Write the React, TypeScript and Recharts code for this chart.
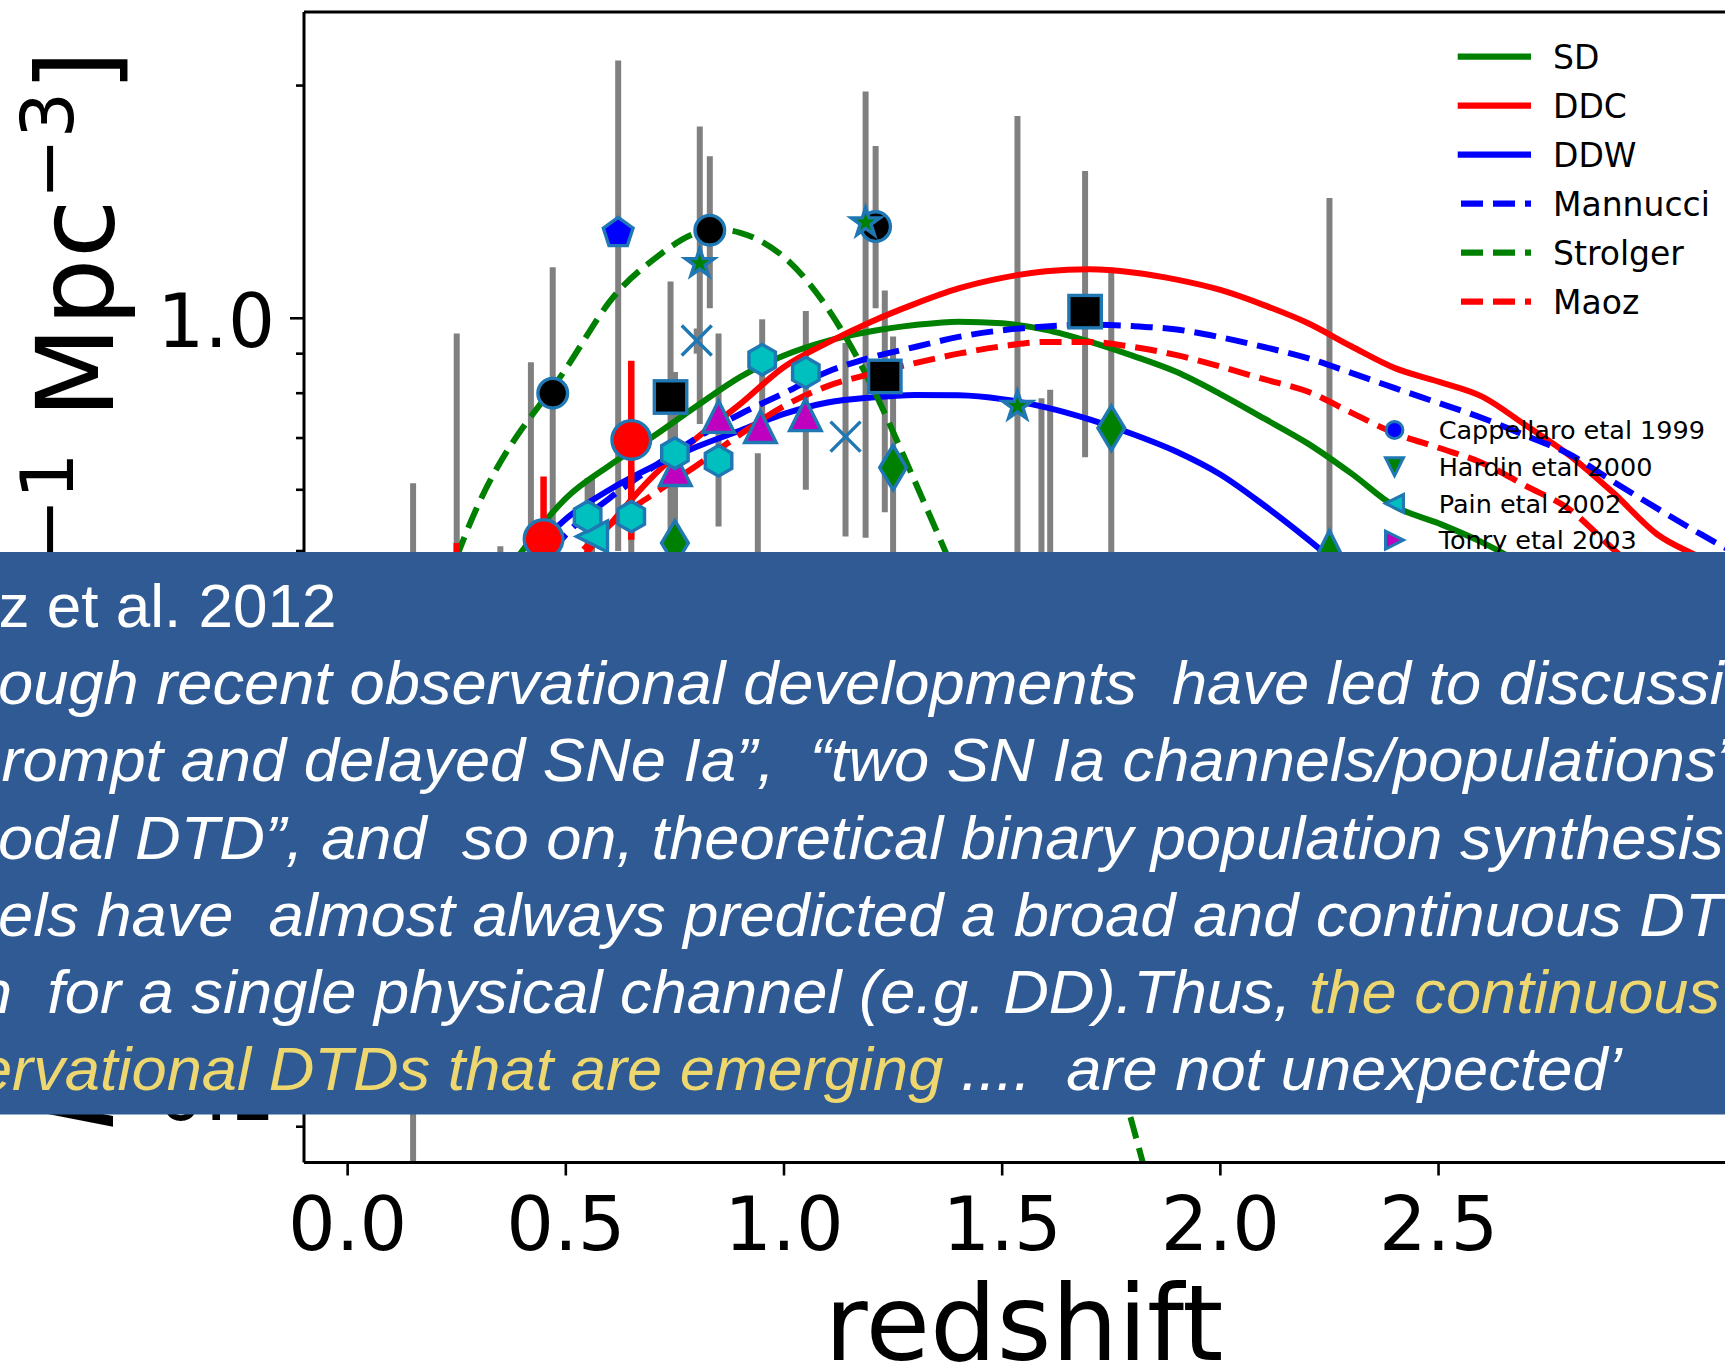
import React from 'react';
import { ComposedChart, Line, Scatter, XAxis, YAxis, ErrorBar, ReferenceLine } from 'recharts';

// ---------- model curves: SN Ia rate vs redshift ----------
const redshiftGrid = [
  0.0, 0.1, 0.2, 0.3, 0.4, 0.5, 0.6, 0.7, 0.8, 0.9, 1.0, 1.1, 1.2, 1.3, 1.4, 1.5, 1.6,
  1.7, 1.8, 1.9, 2.0, 2.1, 2.2, 2.3, 2.4, 2.5, 2.6, 2.7, 2.8, 2.9, 3.0, 3.1, 3.2,
];
const sdRate = [
  0.22, 0.27, 0.33, 0.41, 0.5, 0.585, 0.645, 0.703, 0.77, 0.84, 0.895, 0.935, 0.962, 0.98, 0.99, 0.985, 0.966,
  0.933, 0.894, 0.852, 0.798, 0.742, 0.689, 0.63, 0.571, 0.543, 0.513, 0.478, 0.44, 0.405, 0.37, 0.34, 0.31,
];
const ddcRate = [
  0.14, 0.18, 0.24, 0.31, 0.39, 0.46, 0.54, 0.625, 0.7, 0.775, 0.865, 0.93, 0.99, 1.044, 1.093, 1.128, 1.15,
  1.157, 1.146, 1.122, 1.088, 1.04, 0.986, 0.92, 0.862, 0.828, 0.792, 0.727, 0.665, 0.595, 0.526, 0.49, 0.455,
];
const ddwRate = [
  0.2, 0.25, 0.31, 0.39, 0.48, 0.55, 0.6, 0.643, 0.682, 0.716, 0.752, 0.778, 0.79, 0.796, 0.795, 0.786, 0.767,
  0.74, 0.708, 0.672, 0.628, 0.573, 0.518, 0.465, 0.42, 0.38, 0.345, 0.31, 0.28, 0.255, 0.23, 0.21, 0.19,
];
const mannucciRate = [
  0.17, 0.22, 0.28, 0.35, 0.44, 0.525, 0.585, 0.642, 0.7, 0.752, 0.8, 0.853, 0.89, 0.918, 0.946, 0.965, 0.976,
  0.981, 0.977, 0.967, 0.945, 0.918, 0.888, 0.85, 0.812, 0.777, 0.743, 0.705, 0.667, 0.615, 0.568, 0.526, 0.49,
];
const strolgerRate = [
  0.2, 0.28, 0.41, 0.575, 0.72, 0.86, 1.05, 1.19, 1.29, 1.29, 1.2, 1.03, 0.82, 0.615, 0.455, 0.325, 0.22,
  0.142, 0.09, 0.055, null, null, null, null, null, null, null, null, null, null, null, null, null,
];
const maozRate = [
  0.13, 0.17, 0.22, 0.28, 0.37, 0.47, 0.54, 0.592, 0.645, 0.708, 0.77, 0.817, 0.848, 0.875, 0.9, 0.92, 0.932,
  0.932, 0.918, 0.896, 0.866, 0.834, 0.804, 0.755, 0.71, 0.68, 0.65, 0.607, 0.566, 0.503, 0.45, 0.41, 0.37,
];

// ---------- observed rates (value, lower and upper bound) ----------
type Obs = { z: number; rate: number; lo: number; hi: number };

const cappellaro1999: Obs[] = [{ z: 0.01, rate: 0.28, lo: 0.2, hi: 0.37 }];
const hardin2000: Obs[] = [{ z: 0.14, rate: 0.24, lo: 0.15, hi: 0.36 }];
const pain2002: Obs[] = [{ z: 0.56, rate: 0.522, lo: 0.43, hi: 0.62 }];
const tonry2003: Obs[] = [{ z: 0.46, rate: 0.4, lo: 0.26, hi: 0.47 }];
const dahlen2004: Obs[] = [
  { z: 0.47, rate: 0.8, lo: 0.45, hi: 1.164 },
  { z: 0.83, rate: 1.3, lo: 1.03, hi: 1.62 },
  { z: 1.21, rate: 1.314, lo: 1.03, hi: 1.67 },
  { z: 1.61, rate: 0.44, lo: 0.2, hi: 0.808 },
];
const barrisTonry2006: Obs[] = [{ z: 0.62, rate: 1.289, lo: 0.5, hi: 2.155 }];
const neill2006: Obs[] = [{ z: 0.42, rate: 0.42, lo: 0.3, hi: 0.877 }];
const poznanski2007: Obs[] = [
  { z: 0.807, rate: 1.178, lo: 0.73, hi: 1.77 },
  { z: 1.187, rate: 1.33, lo: 0.52, hi: 1.965 },
  { z: 1.535, rate: 0.77, lo: 0.3, hi: 1.827 },
];
const kuznetsova2008: Obs[] = [
  { z: 0.8, rate: 0.936, lo: 0.9, hi: 0.97 },
  { z: 1.141, rate: 0.703, lo: 0.522, hi: 0.929 },
];
const dahlen2008: Obs[] = [
  { z: 0.94, rate: 0.45, lo: 0.3, hi: 0.669 },
  { z: 1.59, rate: 0.45, lo: 0.25, hi: 0.788 },
];
const dilday2010: Obs[] = [
  { z: 0.25, rate: 0.33, lo: 0.2, hi: 0.956 },
  { z: 0.35, rate: 0.3, lo: 0.2, hi: 0.507 },
];
const graur2011: Obs[] = [{ z: 2.25, rate: 0.507, lo: 0.25, hi: 1.431 }];
const perrett2012: Obs[] = [
  { z: 0.15, rate: 0.3, lo: 0.0812, hi: 0.612 },
  { z: 0.25, rate: 0.36, lo: 0.3, hi: 0.42 },
  { z: 0.35, rate: 0.38, lo: 0.33, hi: 0.43 },
  { z: 0.45, rate: 0.42, lo: 0.37, hi: 0.47 },
  { z: 0.55, rate: 0.554, lo: 0.48, hi: 0.621 },
  { z: 0.65, rate: 0.554, lo: 0.47, hi: 0.64 },
  { z: 0.75, rate: 0.669, lo: 0.55, hi: 0.852 },
  { z: 0.85, rate: 0.654, lo: 0.538, hi: 0.956 },
  { z: 0.95, rate: 0.884, lo: 0.7, hi: 0.997 },
  { z: 1.05, rate: 0.851, lo: 0.6, hi: 1.022 },
];
const graur2014: Obs[] = [
  { z: 0.74, rate: 0.791, lo: 0.5, hi: 1.116 },
  { z: 1.231, rate: 0.841, lo: 0.561, hi: 1.086 },
  { z: 1.69, rate: 1.02, lo: 0.661, hi: 1.551 },
];
const rodney2014: Obs[] = [
  { z: 0.25, rate: 0.3, lo: 0.2, hi: 0.4 },
  { z: 0.75, rate: 0.512, lo: 0.35, hi: 0.852 },
  { z: 1.25, rate: 0.641, lo: 0.4, hi: 0.947 },
  { z: 1.75, rate: 0.721, lo: 0.45, hi: 1.163 },
];
const okumura2014: Obs[] = [
  { z: 0.751, rate: 0.637, lo: 0.637, hi: 0.637 },
  { z: 0.85, rate: 0.746, lo: 0.746, hi: 0.746 },
  { z: 0.946, rate: 0.724, lo: 0.724, hi: 0.724 },
  { z: 1.049, rate: 0.75, lo: 0.75, hi: 0.75 },
];
const sudare: Obs[] = [
  { z: 0.25, rate: 0.28, lo: 0.15, hi: 0.512 },
  { z: 0.449, rate: 0.518, lo: 0.38, hi: 0.624 },
  { z: 0.65, rate: 0.696, lo: 0.517, hi: 0.881 },
];

// ---------- axes ----------
const X_DOMAIN: [number, number] = [-0.1, 3.2];
const Y_MIN = 0.0809;
const Y_MAX = 2.49;
const xTicks = [0, 0.5, 1, 1.5, 2, 2.5];
const yMajorTicks = [0.1, 1];
const yMinorTicks = [0.09, 0.2, 0.3, 0.4, 0.5, 0.6, 0.7, 0.8, 0.9, 2];

// ---------- colours ----------
const GREEN = '#008000';
const RED = '#ff0000';
const BLUE = '#0000ff';
const CYAN = '#00bfbf';
const MAGENTA = '#bf00bf';
const OLIVE = '#bfbf00';
const EDGE = '#1f77b4';
const BAR_GREY = '#808080';
const AXIS_FONT = 'DejaVu Sans, Verdana, sans-serif';

// geometry of the plotting frame
const CHART_W = 1800;
const CHART_H = 1364;
const PLOT_LEFT = 304;
const PLOT_TOP = 12;
const PLOT_BOTTOM = 1162.5;
const PLOT_RIGHT = 1744;

const modelSeries = [
  { name: 'SD', values: sdRate, color: GREEN, dashed: false, curve: 'monotone' },
  { name: 'DDC', values: ddcRate, color: RED, dashed: false, curve: 'monotone' },
  { name: 'DDW', values: ddwRate, color: BLUE, dashed: false, curve: 'monotone' },
  { name: 'Mannucci', values: mannucciRate, color: BLUE, dashed: true, curve: 'monotone' },
  { name: 'Strolger', values: strolgerRate, color: GREEN, dashed: true, curve: 'natural' },
  { name: 'Maoz', values: maozRate, color: RED, dashed: true, curve: 'monotone' },
];

type Kind =
  | 'circle' | 'square' | 'triUp' | 'triDown' | 'triLeft' | 'triRight'
  | 'pentagon' | 'hexagon' | 'star' | 'thinDiamond' | 'x';

const observationSeries: { name: string; points: Obs[]; kind: Kind; face: string; r: number }[] = [
  { name: 'Cappellaro etal 1999', points: cappellaro1999, kind: 'circle', face: BLUE, r: 14.5 },
  { name: 'Hardin etal 2000', points: hardin2000, kind: 'triDown', face: GREEN, r: 15.5 },
  { name: 'Pain etal 2002', points: pain2002, kind: 'triLeft', face: CYAN, r: 15.5 },
  { name: 'Tonry etal 2003', points: tonry2003, kind: 'triRight', face: MAGENTA, r: 15.5 },
  { name: 'Dahlen etal 2004', points: dahlen2004, kind: 'circle', face: '#000000', r: 14.8 },
  { name: 'Barris & Tonry 2006', points: barrisTonry2006, kind: 'pentagon', face: BLUE, r: 15.6 },
  { name: 'Neill etal 2006', points: neill2006, kind: 'square', face: OLIVE, r: 14 },
  { name: 'Poznanski etal 2007', points: poznanski2007, kind: 'star', face: GREEN, r: 15 },
  { name: 'Kuznetsova etal 2008', points: kuznetsova2008, kind: 'x', face: EDGE, r: 15 },
  { name: 'Dahlen etal 2008', points: dahlen2008, kind: 'triDown', face: '#000000', r: 15 },
  { name: 'Dilday etal 2010', points: dilday2010, kind: 'circle', face: OLIVE, r: 14 },
  { name: 'Graur etal 2011', points: graur2011, kind: 'triUp', face: GREEN, r: 15.75 },
  { name: 'Perrett etal 2012', points: perrett2012, kind: 'hexagon', face: CYAN, r: 15.3 },
  { name: 'Graur etal 2014', points: graur2014, kind: 'square', face: '#000000', r: 16.2 },
  { name: 'Rodney etal 2014', points: rodney2014, kind: 'thinDiamond', face: GREEN, r: 22.3 },
  { name: 'Okumura etal 2014', points: okumura2014, kind: 'triUp', face: MAGENTA, r: 15.75 },
  { name: 'SUDARE', points: sudare, kind: 'circle', face: RED, r: 19.3 },
];

// stacking order of the marker layers (later ones sit on top)
const markerDrawOrder = [
  'Cappellaro etal 1999', 'Hardin etal 2000', 'Pain etal 2002', 'Tonry etal 2003', 'Okumura etal 2014',
  'Dahlen etal 2004', 'Barris & Tonry 2006', 'Neill etal 2006', 'Poznanski etal 2007', 'Kuznetsova etal 2008',
  'Dahlen etal 2008', 'Dilday etal 2010', 'Graur etal 2011', 'Perrett etal 2012', 'Graur etal 2014',
  'Rodney etal 2014',
];

// tables built for the library
const toErrRows = (pts: Obs[]) =>
  pts.map((p) => ({ z: p.z, rate: p.rate, err: [p.rate - p.lo, p.hi - p.rate] }));

const greyBarRows = observationSeries
  .filter((s) => s.name !== 'SUDARE')
  .flatMap((s) => toErrRows(s.points));

const curveRows = (values: (number | null)[]) =>
  redshiftGrid.map((z, i) => ({ z, rate: values[i] })).filter((row) => row.rate !== null);

// ---------- marker glyphs ----------
const unitPolygons: Record<string, number[][]> = {
  triUp: [[0, -1], [-1, 1], [1, 1]],
  triDown: [[0, 1], [-1, -1], [1, -1]],
  triLeft: [[-1, 0], [1, -1], [1, 1]],
  triRight: [[1, 0], [-1, -1], [-1, 1]],
  thinDiamond: [[0, -1], [0.6, 0], [0, 1], [-0.6, 0]],
};

function regularPolygon(n: number, inner?: number): number[][] {
  const pts: number[][] = [];
  const count = inner ? n * 2 : n;
  for (let i = 0; i < count; i++) {
    const a = -Math.PI / 2 + (i * 2 * Math.PI) / count;
    const rad = inner && i % 2 === 1 ? inner : 1;
    pts.push([Math.cos(a) * rad, Math.sin(a) * rad]);
  }
  return pts;
}

function polygonFor(kind: Kind): number[][] {
  if (kind === 'pentagon') return regularPolygon(5);
  if (kind === 'hexagon') return regularPolygon(6);
  if (kind === 'star') return regularPolygon(5, 0.381966);
  return unitPolygons[kind];
}

function Glyph({ kind, cx, cy, r, face, sw = 3.4 }: { kind: Kind; cx: number; cy: number; r: number; face: string; sw?: number }) {
  if (cx == null || cy == null || Number.isNaN(cx) || Number.isNaN(cy)) return <g />;
  if (kind === 'circle') {
    return <circle cx={cx} cy={cy} r={r} fill={face} stroke={EDGE} strokeWidth={sw} />;
  }
  if (kind === 'square') {
    return <rect x={cx - r} y={cy - r} width={2 * r} height={2 * r} fill={face} stroke={EDGE} strokeWidth={sw} />;
  }
  if (kind === 'x') {
    const d = `M${cx - r},${cy - r}L${cx + r},${cy + r}M${cx - r},${cy + r}L${cx + r},${cy - r}`;
    return <path d={d} stroke={EDGE} strokeWidth={sw} fill="none" />;
  }
  const pts = polygonFor(kind)
    .map(([px, py]) => `${cx + px * r},${cy + py * r}`)
    .join(' ');
  return <polygon points={pts} fill={face} stroke={EDGE} strokeWidth={sw} strokeLinejoin="miter" />;
}

// ---------- axis furniture ----------
function XTick(props: any) {
  const { x, payload } = props;
  return (
    <g>
      <line x1={x} x2={x} y1={PLOT_BOTTOM} y2={PLOT_BOTTOM + 13} stroke="#000" strokeWidth={2.6} />
      <text x={x} y={1250} textAnchor="middle" fontFamily={AXIS_FONT} fontSize={75} fill="#000">
        {Number(payload.value).toFixed(1)}
      </text>
    </g>
  );
}

function YTick(props: any) {
  const { y, payload } = props;
  const v = Number(payload.value);
  const major = yMajorTicks.some((m) => Math.abs(m - v) < 1e-9);
  return (
    <g>
      <line x1={PLOT_LEFT - (major ? 14 : 8)} x2={PLOT_LEFT} y1={y} y2={y} stroke="#000" strokeWidth={2.6} />
      {major && (
        <text x={275} y={y + 29} textAnchor="end" fontFamily={AXIS_FONT} fontSize={74} fill="#000">
          {v.toFixed(1)}
        </text>
      )}
    </g>
  );
}

// rate axis title: R_Ia [10^-4 yr^-1 Mpc^-3], rotated, ending just below the top spine
function YTitle() {
  return (
    <text transform="translate(113,50) rotate(-90)" textAnchor="end" fontFamily={AXIS_FONT} fontSize={107} fill="#000">
      <tspan fontStyle="italic">R</tspan>
      <tspan fontStyle="italic" fontSize={75} dy={22}>Ia</tspan>
      <tspan dy={-22}> [10</tspan>
      <tspan fontSize={73} dy={-40}>−4</tspan>
      <tspan dy={40}>yr</tspan>
      <tspan fontSize={73} dy={-40}>−1</tspan>
      <tspan dy={40}> Mpc</tspan>
      <tspan fontSize={73} dy={-40}>−3</tspan>
      <tspan dy={40}>]</tspan>
    </text>
  );
}

function XTitle() {
  return (
    <text x={(PLOT_LEFT + PLOT_RIGHT) / 2} y={1360} textAnchor="middle" fontFamily={AXIS_FONT} fontSize={105} fill="#000">
      redshift
    </text>
  );
}

// ---------- legends ----------
function Legends() {
  return (
    <svg width={1725} height={1364} style={{ position: 'absolute', left: 0, top: 0, pointerEvents: 'none' }}>
      {modelSeries.map((m, i) => {
        const y = 56.7 + i * 49;
        return (
          <g key={m.name}>
            <line
              x1={m.dashed ? 1461 : 1457.7}
              x2={1531}
              y1={y}
              y2={y}
              stroke={m.color}
              strokeWidth={6.2}
              strokeDasharray={m.dashed ? '22 10' : undefined}
            />
            <text x={1553} y={y + 12} fontFamily={AXIS_FONT} fontSize={33} fill="#000">
              {m.name}
            </text>
          </g>
        );
      })}
      {observationSeries.map((s, i) => {
        const y = 430 + i * 36.7;
        return (
          <g key={s.name}>
            <Glyph kind={s.kind} cx={1394.5} cy={y} r={s.r * 0.58} face={s.face} sw={3} />
            <text x={1438.7} y={y + 9.3} fontFamily={AXIS_FONT} fontSize={25.5} fill="#000">
              {s.name}
            </text>
          </g>
        );
      })}
    </svg>
  );
}

// ---------- quotation panel ----------
type Run = { text: string; gold?: boolean; italic?: boolean };
const quoteLines: Run[][] = [
  [{ text: 'Maoz et al. 2012' }],
  [{ text: '‘Although recent observational developments  have led to discussions', italic: true }],
  [{ text: 'of “prompt and delayed SNe Ia”,  “two SN Ia channels/populations”,', italic: true }],
  [{ text: '“bimodal DTD”, and  so on, theoretical binary population synthesis models', italic: true }],
  [{ text: 'models have  almost always predicted a broad and continuous DTD,', italic: true }],
  [
    { text: 'even  for a single physical channel (e.g. DD).Thus, ', italic: true },
    { text: 'the continuous', italic: true, gold: true },
  ],
  [
    { text: 'observational DTDs that are emerging', italic: true, gold: true },
    { text: ' ....  are not unexpected’', italic: true },
  ],
];

function QuotePanel() {
  return (
    <svg width={1725} height={1364} style={{ position: 'absolute', left: 0, top: 0, pointerEvents: 'none' }}>
      <rect x={0} y={552} width={1725} height={562.5} fill="#2f5a93" />
      {quoteLines.map((runs, i) => {
        const italicLine = runs.some((r) => r.italic);
        return (
          <text
            key={i}
            transform={`translate(${italicLine ? -125 : -122},${627 + i * 77.2}) scale(${italicLine ? 1.02 : 1},1)`}
            x={0}
            y={0}
            fontFamily="Liberation Sans, Arial, Helvetica, sans-serif"
            fontSize={62}
            style={{ whiteSpace: 'pre' }}
          >
            {runs.map((run, j) => (
              <tspan key={j} fill={run.gold ? '#eed76f' : '#ffffff'} fontStyle={run.italic ? 'italic' : 'normal'}>
                {run.text}
              </tspan>
            ))}
          </text>
        );
      })}
    </svg>
  );
}

export default function App() {
  const seriesByName = Object.fromEntries(observationSeries.map((s) => [s.name, s]));
  return (
    <div style={{ position: 'absolute', left: 0, top: 0, width: 1725, height: 1364, overflow: 'hidden', background: '#fff' }}>
      <ComposedChart
        width={CHART_W}
        height={CHART_H}
        margin={{ top: PLOT_TOP, right: CHART_W - PLOT_RIGHT, bottom: 0, left: 0 }}
      >
        <XAxis
          dataKey="z"
          type="number"
          domain={X_DOMAIN}
          allowDataOverflow
          ticks={xTicks}
          interval={0}
          tick={<XTick />}
          tickLine={false}
          axisLine={{ stroke: '#000', strokeWidth: 3 }}
          height={CHART_H - PLOT_BOTTOM}
          label={<XTitle />}
        />
        <YAxis
          type="number"
          scale="log"
          domain={[Y_MIN, Y_MAX]}
          allowDataOverflow
          ticks={[...yMinorTicks, ...yMajorTicks].sort((a, b) => a - b)}
          interval={0}
          tick={<YTick />}
          tickLine={false}
          axisLine={{ stroke: '#000', strokeWidth: 3 }}
          width={PLOT_LEFT}
          label={<YTitle />}
        />
        <ReferenceLine y={Y_MAX} stroke="#000" strokeWidth={3} />

        {/* grey error bars of all surveys except SUDARE */}
        <Scatter data={greyBarRows} dataKey="rate" isAnimationActive={false} shape={() => <g />}>
          <ErrorBar dataKey="err" direction="y" width={0} stroke={BAR_GREY} strokeWidth={6} />
        </Scatter>

        {modelSeries.map((m) => (
          <Line
            key={m.name}
            data={curveRows(m.values)}
            dataKey="rate"
            type={m.curve as any}
            stroke={m.color}
            strokeWidth={6}
            strokeDasharray={m.dashed ? '22 10' : undefined}
            dot={false}
            activeDot={false}
            isAnimationActive={false}
          />
        ))}

        {markerDrawOrder.map((name) => {
          const s = seriesByName[name];
          return (
            <Scatter
              key={s.name}
              data={s.points}
              dataKey="rate"
              isAnimationActive={false}
              shape={(p: any) => <Glyph kind={s.kind} cx={p.cx} cy={p.cy} r={s.r} face={s.face} />}
            />
          );
        })}

        <Scatter
          data={toErrRows(sudare)}
          dataKey="rate"
          isAnimationActive={false}
          shape={(p: any) => <Glyph kind="circle" cx={p.cx} cy={p.cy} r={19.3} face={RED} />}
        >
          <ErrorBar dataKey="err" direction="y" width={0} stroke={RED} strokeWidth={6.5} />
        </Scatter>
      </ComposedChart>
      <Legends />
      <QuotePanel />
    </div>
  );
}
